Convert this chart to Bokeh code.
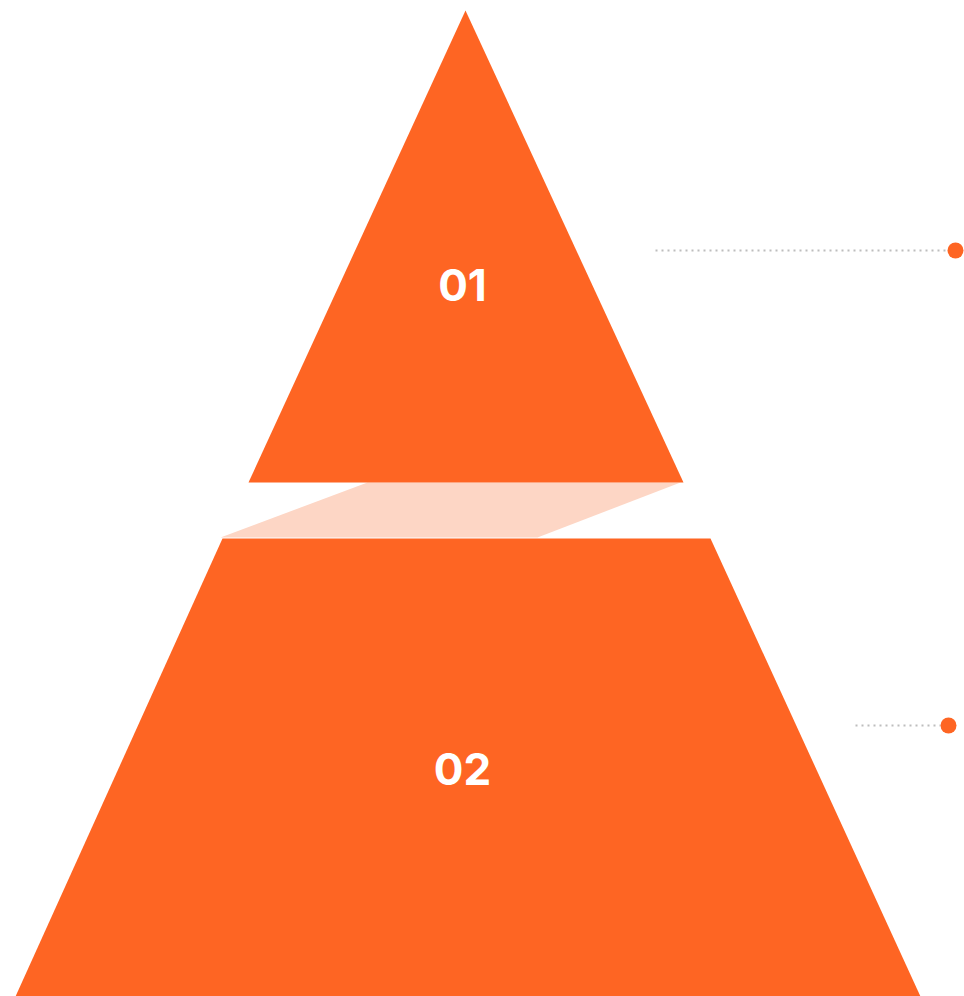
from bokeh.plotting import figure
from bokeh.models import Range1d
from bokeh.core.properties import value
from bokeh.embed import file_html
from bokeh.resources import INLINE

# Shapes (in pixel-like data units, y grows downward)
top_tri_x = [465, 683, 248]
top_tri_y = [10, 482, 482]
bridge_x = [367, 680, 537, 220]
bridge_y = [482, 482, 537, 537]
bottom_x = [222, 710, 920, 15]
bottom_y = [538, 538, 996, 996]

labels = ["01", "02"]
label_x = [462, 462]
label_y = [284, 768]

conn_x0 = [655, 855]
conn_x1 = [945, 940]
conn_y = [250, 725]
dot_x = [955, 948]

ORANGE = "#FE6523"
PEACH = "#FDD6C5"

p = figure(width=964, height=996, output_backend="svg", toolbar_location=None,
           x_range=Range1d(0, 964), y_range=Range1d(996, 0), min_border=0)
p.axis.visible = False
p.grid.visible = False
p.outline_line_color = None
p.background_fill_color = "white"
p.border_fill_color = "white"

p.patch(bridge_x, bridge_y, fill_color=PEACH, line_color=None)
p.patch(top_tri_x, top_tri_y, fill_color=ORANGE, line_color=None)
p.patch(bottom_x, bottom_y, fill_color=ORANGE, line_color=None)

p.segment(x0=conn_x0, y0=conn_y, x1=conn_x1, y1=conn_y, line_color="#BDBDBD",
          line_width=2, line_dash="2 4")
p.scatter(dot_x, conn_y, size=16, fill_color=ORANGE, line_color=None)

p.text(label_x, label_y, text=labels, text_color="white", text_font=value("Inter"),
       text_font_size="44px", text_font_style="bold", text_align="center",
       text_baseline="middle")

open("out.html", "w").write(file_html(p, INLINE))
